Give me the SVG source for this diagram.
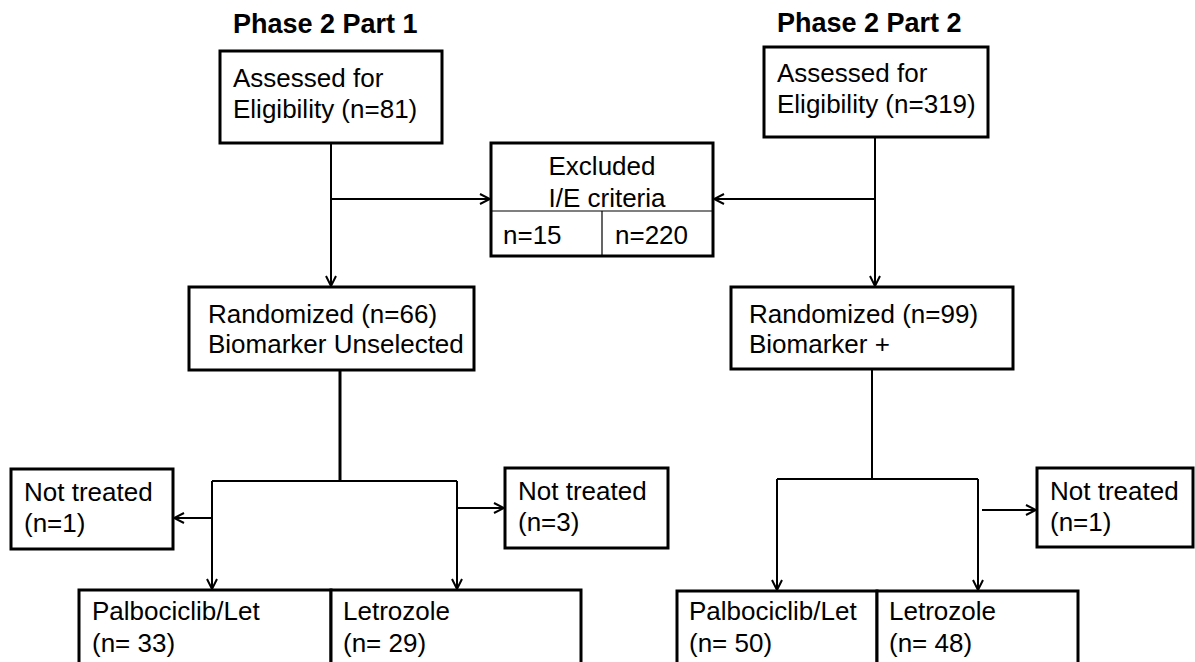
<svg xmlns="http://www.w3.org/2000/svg" width="1195" height="662" viewBox="0 0 1195 662">
<style>
.box{fill:#fff;stroke:#000;stroke-width:3}
.t{font-family:"Liberation Sans",Arial,sans-serif;font-size:26px;fill:#000}
.h{font-family:"Liberation Sans",Arial,sans-serif;font-size:27px;font-weight:bold;fill:#000}
.c{fill:none;stroke:#000;stroke-width:2}
.thin{fill:none;stroke:#000;stroke-width:1.2}
</style>
<defs>
<marker id="ah" viewBox="0 0 12 12" refX="11" refY="6" markerWidth="12" markerHeight="12" markerUnits="userSpaceOnUse" orient="auto">
<path d="M1,1 L11,6 L1,11" fill="none" stroke="#000" stroke-width="2"/>
</marker>
</defs>
<text class="h" x="233" y="33">Phase 2 Part 1</text>
<text class="h" x="777" y="32">Phase 2 Part 2</text>
<g id="connectors">
<path class="c" d="M331,143 V286" marker-end="url(#ah)"/>
<path class="c" d="M331,199 H490" marker-end="url(#ah)"/>
<path class="c" d="M875,137 V286" marker-end="url(#ah)"/>
<path class="c" d="M875,199 H714" marker-end="url(#ah)"/>
<path class="c" d="M340,370 V481" style="stroke-width:3"/>
<path class="c" d="M212,481 H457"/>
<path class="c" d="M212,481 V589" marker-end="url(#ah)"/>
<path class="c" d="M457,481 V589" marker-end="url(#ah)"/>
<path class="c" d="M212,518 H174" marker-end="url(#ah)"/>
<path class="c" d="M458,508 H504" marker-end="url(#ah)"/>
<path class="c" d="M872,369 V479"/>
<path class="c" d="M777,479 H978"/>
<path class="c" d="M777,479 V590" marker-end="url(#ah)"/>
<path class="c" d="M978,479 V590" marker-end="url(#ah)"/>
<path class="c" d="M982,510 H1036" marker-end="url(#ah)"/>
</g>
<g id="assessed1">
<rect class="box" x="220" y="51" width="222" height="92"/>
<text class="t" x="233" y="87">Assessed for</text>
<text class="t" x="233" y="118">Eligibility (n=81)</text>
</g>
<g id="assessed2">
<rect class="box" x="764" y="47" width="224" height="90"/>
<text class="t" x="777" y="82">Assessed for</text>
<text class="t" x="777" y="113">Eligibility (n=319)</text>
</g>
<g id="excluded">
<rect class="box" x="491" y="143" width="222" height="113"/>
<path class="thin" d="M491,211 H713 M602,211 V256"/>
<text class="t" x="602" y="175" text-anchor="middle">Excluded</text>
<text class="t" x="607" y="207" text-anchor="middle">I/E criteria</text>
<text class="t" x="503" y="244">n=15</text>
<text class="t" x="615" y="244">n=220</text>
</g>
<g id="randomized1">
<rect class="box" x="189" y="287" width="285" height="83"/>
<text class="t" x="208" y="323">Randomized (n=66)</text>
<text class="t" x="208" y="353">Biomarker Unselected</text>
</g>
<g id="randomized2">
<rect class="box" x="731" y="287" width="282" height="82"/>
<text class="t" x="749" y="323">Randomized (n=99)</text>
<text class="t" x="749" y="353">Biomarker +</text>
</g>
<g id="nottreated1">
<rect class="box" x="11" y="469" width="162" height="80"/>
<text class="t" x="24" y="501">Not treated</text>
<text class="t" x="24" y="532">(n=1)</text>
</g>
<g id="nottreated2">
<rect class="box" x="505" y="468" width="163" height="80"/>
<text class="t" x="518" y="500">Not treated</text>
<text class="t" x="518" y="531">(n=3)</text>
</g>
<g id="nottreated3">
<rect class="box" x="1037" y="468" width="156" height="79"/>
<text class="t" x="1050" y="500">Not treated</text>
<text class="t" x="1050" y="531">(n=1)</text>
</g>
<g id="palbo1">
<rect class="box" x="79" y="590" width="252" height="80"/>
<text class="t" x="92" y="620">Palbociclib/Let</text>
<text class="t" x="92" y="652">(n= 33)</text>
</g>
<g id="letrozole1">
<rect class="box" x="331" y="590" width="250" height="80"/>
<text class="t" x="343" y="620">Letrozole</text>
<text class="t" x="343" y="652">(n= 29)</text>
</g>
<g id="palbo2">
<rect class="box" x="677" y="591" width="200" height="80"/>
<text class="t" x="689" y="620">Palbociclib/Let</text>
<text class="t" x="689" y="652">(n= 50)</text>
</g>
<g id="letrozole2">
<rect class="box" x="877" y="591" width="201" height="80"/>
<text class="t" x="889" y="620">Letrozole</text>
<text class="t" x="889" y="652">(n= 48)</text>
</g>
</svg>
